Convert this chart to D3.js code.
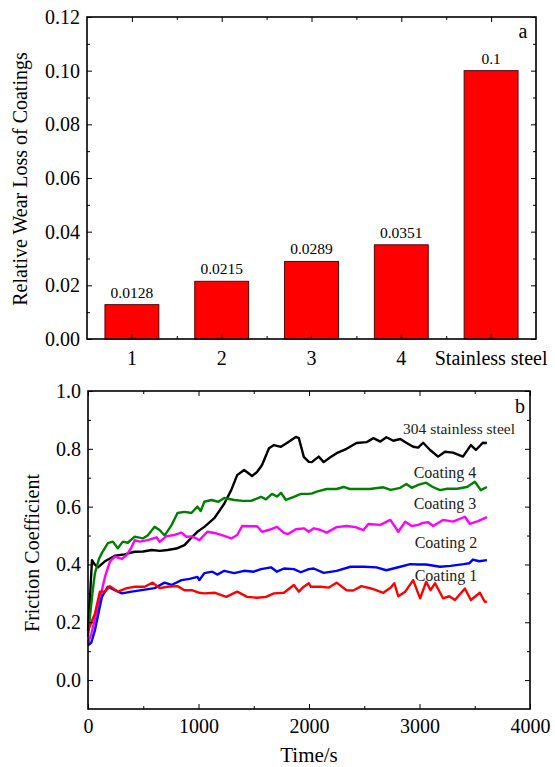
<!DOCTYPE html>
<html>
<head>
<meta charset="utf-8">
<script src="https://cdn.jsdelivr.net/npm/d3@7"></script>
<style>
  body { margin: 0; background: #fff; }
</style>
</head>
<body>
<svg id="chart" width="555" height="767"></svg>
<script>
var serif = "'Liberation Serif', 'Times New Roman', Times, 'DejaVu Serif', serif";

// panel a: relative wear loss
var barCats = ["1", "2", "3", "4", "Stainless steel"];
var wearLoss = [0.0128, 0.0215, 0.0289, 0.0351, 0.1];
var wearLabels = ["0.0128", "0.0215", "0.0289", "0.0351", "0.1"];
var wearTicks = [0, 0.02, 0.04, 0.06, 0.08, 0.10, 0.12];

// panel b: friction coefficient vs time, [time s, coefficient]
var steel = [[0,0.17],[20,0.3],[36,0.415],[60,0.40],[90,0.39],[150,0.41],[243,0.43],[330,0.435],[423,0.444],[500,0.445],[576,0.45],[650,0.447],[720,0.45],[800,0.455],[873,0.467],[930,0.49],[990,0.513],[1053,0.53],[1143,0.56],[1233,0.61],[1296,0.657],[1350,0.709],[1413,0.727],[1485,0.706],[1530,0.72],[1575,0.744],[1638,0.802],[1683,0.813],[1746,0.807],[1800,0.82],[1881,0.841],[1908,0.837],[1953,0.772],[1998,0.755],[2025,0.754],[2088,0.773],[2133,0.754],[2190,0.77],[2250,0.785],[2340,0.80],[2430,0.82],[2520,0.823],[2583,0.837],[2646,0.825],[2700,0.84],[2763,0.828],[2826,0.834],[2880,0.821],[2943,0.807],[2988,0.804],[3033,0.821],[3096,0.796],[3168,0.773],[3231,0.79],[3303,0.787],[3393,0.773],[3465,0.813],[3510,0.796],[3573,0.821],[3610,0.82]];
var coating4 = [[0,0.15],[15,0.21],[40,0.30],[63,0.37],[100,0.42],[126,0.44],[180,0.474],[225,0.479],[270,0.456],[315,0.479],[360,0.475],[423,0.496],[495,0.49],[540,0.50],[603,0.53],[648,0.519],[693,0.50],[756,0.536],[810,0.578],[873,0.582],[936,0.578],[990,0.60],[1020,0.585],[1053,0.617],[1116,0.623],[1180,0.617],[1233,0.63],[1323,0.623],[1400,0.62],[1476,0.62],[1566,0.634],[1610,0.625],[1665,0.644],[1710,0.635],[1746,0.648],[1791,0.623],[1863,0.634],[1926,0.644],[1998,0.644],[2030,0.646],[2070,0.652],[2160,0.661],[2250,0.661],[2313,0.668],[2370,0.661],[2430,0.661],[2550,0.661],[2673,0.667],[2740,0.658],[2826,0.665],[2880,0.678],[2930,0.665],[2988,0.675],[3060,0.683],[3120,0.668],[3186,0.657],[3250,0.662],[3340,0.662],[3430,0.668],[3501,0.686],[3555,0.657],[3610,0.668]];
var coating3 = [[0,0.128],[30,0.16],[90,0.253],[153,0.356],[198,0.41],[243,0.427],[306,0.419],[351,0.433],[396,0.461],[423,0.484],[468,0.479],[540,0.484],[621,0.494],[648,0.478],[711,0.498],[783,0.502],[846,0.51],[891,0.496],[940,0.497],[990,0.488],[1008,0.484],[1080,0.513],[1143,0.509],[1206,0.502],[1296,0.49],[1350,0.502],[1395,0.533],[1476,0.532],[1530,0.532],[1575,0.513],[1640,0.52],[1710,0.53],[1773,0.509],[1810,0.505],[1881,0.522],[1953,0.525],[1998,0.513],[2043,0.525],[2100,0.52],[2160,0.51],[2250,0.529],[2340,0.533],[2420,0.529],[2493,0.519],[2538,0.54],[2646,0.537],[2736,0.554],[2808,0.513],[2871,0.548],[2930,0.533],[2988,0.537],[3030,0.544],[3080,0.546],[3123,0.533],[3213,0.554],[3303,0.548],[3411,0.565],[3456,0.54],[3530,0.55],[3610,0.564]];
var coating2 = [[0,0.12],[30,0.13],[63,0.173],[126,0.288],[180,0.323],[243,0.311],[306,0.30],[396,0.306],[486,0.311],[603,0.318],[693,0.337],[756,0.329],[846,0.346],[920,0.35],[990,0.357],[1008,0.346],[1053,0.37],[1125,0.375],[1170,0.365],[1233,0.378],[1323,0.37],[1413,0.378],[1500,0.375],[1566,0.384],[1656,0.39],[1710,0.375],[1773,0.386],[1863,0.384],[1926,0.373],[1998,0.384],[2043,0.386],[2133,0.371],[2250,0.378],[2376,0.392],[2500,0.392],[2610,0.39],[2700,0.38],[2826,0.392],[2916,0.401],[2988,0.40],[3060,0.40],[3186,0.392],[3280,0.395],[3400,0.401],[3450,0.404],[3483,0.417],[3540,0.411],[3610,0.415]];
var coating1 = [[0,0.17],[30,0.2],[63,0.23],[108,0.306],[153,0.306],[198,0.325],[270,0.306],[351,0.318],[423,0.323],[513,0.323],[585,0.337],[648,0.318],[720,0.323],[810,0.325],[873,0.311],[940,0.311],[1008,0.302],[1053,0.30],[1150,0.302],[1251,0.288],[1350,0.306],[1440,0.288],[1530,0.285],[1610,0.288],[1683,0.30],[1773,0.302],[1863,0.329],[1908,0.306],[1953,0.323],[1998,0.335],[2016,0.323],[2106,0.323],[2180,0.32],[2250,0.337],[2340,0.311],[2400,0.31],[2475,0.325],[2570,0.316],[2673,0.302],[2740,0.32],[2772,0.335],[2808,0.29],[2871,0.306],[2943,0.346],[2988,0.30],[3006,0.283],[3060,0.34],[3100,0.311],[3141,0.335],[3213,0.283],[3270,0.29],[3321,0.277],[3411,0.317],[3465,0.277],[3546,0.302],[3591,0.271],[3610,0.271]];
var seriesNames = ["304 stainless steel", "Coating 4", "Coating 3", "Coating 2", "Coating 1"];
var seriesColors = ["#000000", "#008000", "#ff00ff", "#0000ff", "#ff0000"];
var timeTicks = [0, 1000, 2000, 3000, 4000];
var frictionTicks = [0, 0.2, 0.4, 0.6, 0.8, 1.0];

var svg = d3.select("#chart").attr("font-family", serif);

// ---------- panel a ----------
var a = {left: 87, top: 17, right: 536, bottom: 339};

var xBand = d3.scaleBand().domain(barCats).range([a.left, a.right])
    .paddingInner(0.4).paddingOuter(0.2);
var xLin = d3.scaleLinear().domain([0.5, 5.5]).range([a.left, a.right]);
var yA = d3.scaleLinear().domain([0, 0.12]).range([a.bottom, a.top]);

var gA = svg.append("g");

gA.selectAll("rect.bar")
    .data(wearLoss)
    .join("rect")
    .attr("class", "bar")
    .attr("x", (d, i) => xBand(barCats[i]))
    .attr("y", d => yA(d))
    .attr("width", xBand.bandwidth())
    .attr("height", d => yA(0) - yA(d))
    .attr("fill", "#ff0000")
    .attr("stroke", "#5a0000")
    .attr("stroke-width", 1);

gA.selectAll("text.val")
    .data(wearLabels)
    .join("text")
    .attr("class", "val")
    .attr("x", (d, i) => xBand(barCats[i]) + xBand.bandwidth() / 2)
    .attr("y", (d, i) => yA(wearLoss[i]) - 7)
    .attr("text-anchor", "middle")
    .style("font-size", "15.5px")
    .text(d => d);

// axis helper: ticks point inward, mirrored on the opposite side
function fixAxis(g, size) {
    g.select(".domain").remove();
    g.attr("font-family", serif);
    g.selectAll("text").style("font-size", size + "px");
}

gA.append("g")
    .attr("transform", `translate(${a.left},0)`)
    .call(d3.axisLeft(yA).tickValues(wearTicks).tickFormat(d3.format(".2f")).tickSize(-5).tickPadding(7))
    .call(g => fixAxis(g, 20));
gA.append("g")
    .attr("transform", `translate(${a.left},0)`)
    .call(d3.axisLeft(yA).tickValues(d3.range(0.01, 0.12, 0.02)).tickFormat("").tickSize(-3))
    .call(g => fixAxis(g, 20));
gA.append("g")
    .attr("transform", `translate(${a.right},0)`)
    .call(d3.axisRight(yA).tickValues(wearTicks).tickFormat("").tickSize(-5))
    .call(g => fixAxis(g, 20));
gA.append("g")
    .attr("transform", `translate(${a.right},0)`)
    .call(d3.axisRight(yA).tickValues(d3.range(0.01, 0.12, 0.02)).tickFormat("").tickSize(-3))
    .call(g => fixAxis(g, 20));

gA.append("g")
    .attr("transform", `translate(0,${a.bottom})`)
    .call(d3.axisBottom(xBand).tickSize(-5).tickPadding(12))
    .call(g => fixAxis(g, 20));
gA.append("g")
    .attr("transform", `translate(0,${a.bottom})`)
    .call(d3.axisBottom(xLin).tickValues([1.5, 2.5, 3.5, 4.5]).tickFormat("").tickSize(-3))
    .call(g => fixAxis(g, 20));
gA.append("g")
    .attr("transform", `translate(0,${a.top})`)
    .call(d3.axisTop(xLin).tickValues([1, 2, 3, 4, 5]).tickFormat("").tickSize(-5))
    .call(g => fixAxis(g, 20));
gA.append("g")
    .attr("transform", `translate(0,${a.top})`)
    .call(d3.axisTop(xLin).tickValues([1.5, 2.5, 3.5, 4.5]).tickFormat("").tickSize(-3))
    .call(g => fixAxis(g, 20));

gA.append("rect")
    .attr("x", a.left).attr("y", a.top)
    .attr("width", a.right - a.left).attr("height", a.bottom - a.top)
    .attr("fill", "none").attr("stroke", "#000").attr("stroke-width", 1.6);

gA.append("text")
    .attr("transform", `translate(27,${(a.top + a.bottom) / 2 + 1}) rotate(-90)`)
    .attr("text-anchor", "middle")
    .style("font-size", "20px")
    .text("Relative Wear Loss of Coatings");

gA.append("text")
    .attr("x", 523).attr("y", 38)
    .attr("text-anchor", "middle")
    .style("font-size", "20px")
    .text("a");

// ---------- panel b ----------
var b = {left: 88, top: 391, right: 530, bottom: 709};
var xB = d3.scaleLinear().domain([0, 4000]).range([b.left, b.right]);
var yB = d3.scaleLinear().domain([-0.1, 1.0]).range([b.bottom, b.top]);

var gB = svg.append("g");

var allSeries = [steel, coating4, coating3, coating2, coating1];
var line = d3.line().x(d => xB(d[0])).y(d => yB(d[1]));

gB.selectAll("path.curve")
    .data(allSeries)
    .join("path")
    .attr("class", "curve")
    .attr("d", line)
    .attr("fill", "none")
    .attr("stroke", (d, i) => seriesColors[i])
    .attr("stroke-width", 2.4)
    .attr("stroke-linejoin", "round");

// series labels
var labelPos = [[459, 434, 15.5], [445, 478, 16], [445, 509, 16], [446, 548, 16], [446, 581, 16]];
gB.selectAll("text.lab")
    .data(seriesNames)
    .join("text")
    .attr("class", "lab")
    .attr("x", (d, i) => labelPos[i][0])
    .attr("y", (d, i) => labelPos[i][1])
    .attr("text-anchor", "middle")
    .attr("fill", "#222")
    .style("font-size", (d, i) => labelPos[i][2] + "px")
    .text(d => d);

gB.append("g")
    .attr("transform", `translate(${b.left},0)`)
    .call(d3.axisLeft(yB).tickValues(frictionTicks).tickFormat(d3.format(".1f")).tickSize(-5).tickPadding(7))
    .call(g => fixAxis(g, 20));
gB.append("g")
    .attr("transform", `translate(${b.left},0)`)
    .call(d3.axisLeft(yB).tickValues([0.1, 0.3, 0.5, 0.7, 0.9]).tickFormat("").tickSize(-3))
    .call(g => fixAxis(g, 20));
gB.append("g")
    .attr("transform", `translate(${b.right},0)`)
    .call(d3.axisRight(yB).tickValues(frictionTicks).tickFormat("").tickSize(-5))
    .call(g => fixAxis(g, 20));
gB.append("g")
    .attr("transform", `translate(${b.right},0)`)
    .call(d3.axisRight(yB).tickValues([0.1, 0.3, 0.5, 0.7, 0.9]).tickFormat("").tickSize(-3))
    .call(g => fixAxis(g, 20));

gB.append("g")
    .attr("transform", `translate(0,${b.bottom})`)
    .call(d3.axisBottom(xB).tickValues(timeTicks).tickFormat(d3.format("d")).tickSize(-5).tickPadding(10))
    .call(g => fixAxis(g, 20));
gB.append("g")
    .attr("transform", `translate(0,${b.bottom})`)
    .call(d3.axisBottom(xB).tickValues([500, 1500, 2500, 3500]).tickFormat("").tickSize(-3))
    .call(g => fixAxis(g, 20));
gB.append("g")
    .attr("transform", `translate(0,${b.top})`)
    .call(d3.axisTop(xB).tickValues(timeTicks).tickFormat("").tickSize(-5))
    .call(g => fixAxis(g, 20));
gB.append("g")
    .attr("transform", `translate(0,${b.top})`)
    .call(d3.axisTop(xB).tickValues([500, 1500, 2500, 3500]).tickFormat("").tickSize(-3))
    .call(g => fixAxis(g, 20));

gB.append("rect")
    .attr("x", b.left).attr("y", b.top)
    .attr("width", b.right - b.left).attr("height", b.bottom - b.top)
    .attr("fill", "none").attr("stroke", "#000").attr("stroke-width", 1.6);

gB.append("text")
    .attr("transform", `translate(39,${(b.top + b.bottom) / 2 + 3}) rotate(-90)`)
    .attr("text-anchor", "middle")
    .style("font-size", "20px")
    .text("Friction Coefficient");

gB.append("text")
    .attr("x", (b.left + b.right) / 2).attr("y", 762)
    .attr("text-anchor", "middle")
    .style("font-size", "21px")
    .text("Time/s");

gB.append("text")
    .attr("x", 520).attr("y", 413)
    .attr("text-anchor", "middle")
    .style("font-size", "20px")
    .text("b");
</script>
</body>
</html>
